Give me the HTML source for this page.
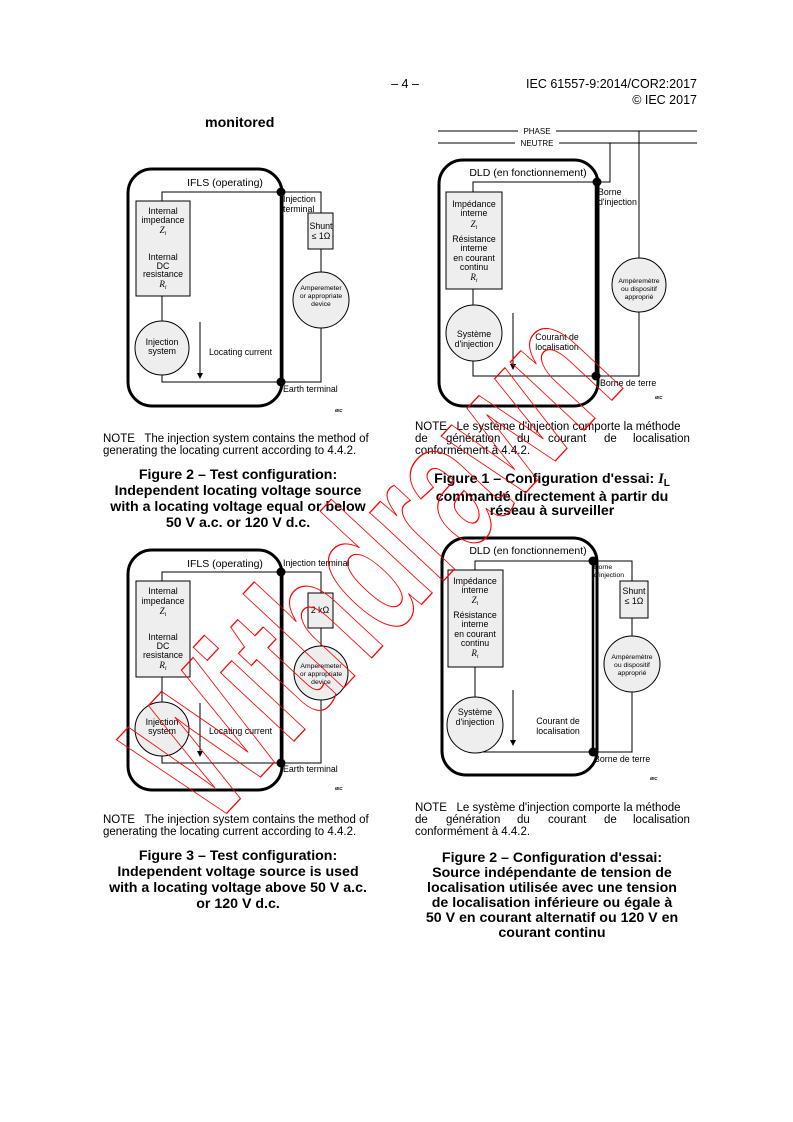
<!DOCTYPE html>
<html><head><meta charset="utf-8"><style>
html,body{margin:0;padding:0;background:#fff}
svg{display:block}
text{font-family:"Liberation Sans",sans-serif;fill:#000;white-space:pre}
.s{font-size:8.8px}.m{font-size:10.5px}.n{font-size:11.5px}
.c{font-size:14.2px;font-weight:bold}
.i{font-family:"Liberation Serif",serif;font-style:italic;font-size:9px}
.t{font-size:4.5px;font-style:italic;font-weight:bold}
</style></head><body>
<svg width="793" height="1122" viewBox="0 0 793 1122" xmlns="http://www.w3.org/2000/svg" xml:space="preserve">
<text x="405" y="88" text-anchor="middle" font-size="12.5">– 4 –</text>
<text x="697" y="88" text-anchor="end" font-size="12.5">IEC 61557-9:2014/COR2:2017</text>
<text x="697" y="104" text-anchor="end" font-size="12.5">© IEC 2017</text>
<text x="205" y="127" class="c">monitored</text>

<!-- Fig top-left -->
<g fill="none" stroke="#000">
<rect x="128" y="169" width="154" height="237" rx="24" stroke-width="3"/>
<polyline points="162,201 162,192 321,192 321,213"/>
<line x1="281" y1="192" x2="281" y2="382" stroke-width="2.5"/>
<polyline points="162,296 162,322"/>
<polyline points="162,374 162,382 321,382 321,328"/>
<line x1="321" y1="249" x2="321" y2="272"/>
<line x1="200" y1="322" x2="200" y2="375"/>
</g>
<path d="M197,373 L200,379 L203,373Z"/>
<rect x="136" y="201" width="54" height="95" fill="#eee" stroke="#000"/>
<rect x="308" y="213" width="25" height="36" fill="#eee" stroke="#000"/>
<circle cx="162" cy="348" r="27" fill="#eee" stroke="#000"/>
<circle cx="321" cy="300" r="28" fill="#eee" stroke="#000"/>
<circle cx="281" cy="192" r="4.5"/><circle cx="281" cy="382" r="4.5"/>
<text x="225" y="186" class="m" text-anchor="middle">IFLS (operating)</text>
<g class="s" text-anchor="middle">
<text x="163" y="214">Internal</text><text x="163" y="223">impedance</text>
<text x="163" y="233" class="i">Z<tspan font-size="6" dy="2">i</tspan></text>
<text x="163" y="260">Internal</text><text x="163" y="269">DC</text><text x="163" y="277">resistance</text>
<text x="163" y="287" class="i">R<tspan font-size="6" dy="2">i</tspan></text>
<text x="162" y="345">Injection</text><text x="162" y="354">system</text>
<text x="321" y="229">Shunt</text><text x="321" y="239">≤ 1Ω</text>
<text x="321" y="290" font-size="6.8">Amperemeter</text><text x="321" y="298" font-size="6.8">or appropriate</text><text x="321" y="306" font-size="6.8">device</text>
</g>
<text x="209" y="355" class="s">Locating current</text>
<text x="283" y="202" class="s">Injection</text><text x="283" y="212" class="s">terminal</text>
<text x="283" y="392" class="s">Earth terminal</text>
<text x="335" y="412" class="t">IEC</text>

<!-- Fig top-right -->
<g fill="none" stroke="#000">
<line x1="438" y1="131" x2="518" y2="131"/><line x1="556" y1="131" x2="697" y2="131"/>
<line x1="438" y1="143" x2="515" y2="143"/><line x1="559" y1="143" x2="697" y2="143"/>
<rect x="439" y="160" width="159" height="246" rx="24" stroke-width="3"/>
<polyline points="473,192 473,182 610,182 610,143"/>
<line x1="639" y1="131" x2="639" y2="258"/>
<polyline points="639,312 639,376 473,376 473,361"/>
<line x1="473" y1="289" x2="473" y2="305"/>
<line x1="596" y1="182" x2="596" y2="376" stroke-width="2.5"/>
<line x1="513" y1="313" x2="513" y2="366"/>
</g>
<path d="M510,364 L513,370 L516,364Z"/>
<rect x="446" y="192" width="56" height="97" fill="#eee" stroke="#000"/>
<circle cx="474" cy="333" r="28" fill="#eee" stroke="#000"/>
<circle cx="639" cy="285" r="27" fill="#eee" stroke="#000"/>
<circle cx="597" cy="182" r="4.5"/><circle cx="596" cy="376" r="4.5"/>
<text x="537" y="134" font-size="8" text-anchor="middle">PHASE</text>
<text x="537" y="146" font-size="8" text-anchor="middle">NEUTRE</text>
<text x="528" y="176" class="m" text-anchor="middle">DLD (en fonctionnement)</text>
<g class="s" text-anchor="middle">
<text x="474" y="207">Impédance</text><text x="474" y="216">interne</text>
<text x="474" y="227" class="i">Z<tspan font-size="6" dy="2">i</tspan></text>
<text x="474" y="242">Résistance</text><text x="474" y="251">interne</text><text x="474" y="261">en courant</text><text x="474" y="270">continu</text>
<text x="474" y="280" class="i">R<tspan font-size="6" dy="2">i</tspan></text>
<text x="474" y="337">Système</text><text x="474" y="347">d'injection</text>
<text x="557" y="340">Courant de</text><text x="557" y="350">localisation</text>
<text x="639" y="283" font-size="6.8">Ampèremètre</text><text x="639" y="291" font-size="6.8">ou dispositif</text><text x="639" y="299" font-size="6.8">approprié</text>
</g>
<text x="598" y="195" class="s">Borne</text><text x="598" y="205" class="s">d'injection</text>
<text x="600" y="386" class="s">Borne de terre</text>
<text x="655" y="399" class="t">IEC</text>

<!-- captions top -->
<text x="103" y="442" class="n">NOTE   The injection system contains the method of</text>
<text x="103" y="454" class="n">generating the locating current according to 4.4.2.</text>
<g class="c" text-anchor="middle">
<text x="238" y="479">Figure 2 – Test configuration:</text>
<text x="238" y="495">Independent locating voltage source</text>
<text x="238" y="511">with a locating voltage equal or below</text>
<text x="238" y="527">50 V a.c. or 120 V d.c.</text>
</g>
<text x="415" y="430" class="n">NOTE   Le système d'injection comporte la méthode</text>
<g class="n"><text x="415" y="442">de</text><text x="446" y="442">génération</text><text x="517" y="442">du</text><text x="548" y="442">courant</text><text x="604" y="442">de</text><text x="633" y="442">localisation</text></g>
<text x="415" y="454" class="n">conformément à 4.4.2.</text>
<g class="c" text-anchor="middle">
<text x="552" y="483">Figure 1 – Configuration d'essai: <tspan font-family="Liberation Serif" font-style="italic">I</tspan><tspan font-size="10" dy="3">L</tspan></text>
<text x="552" y="501">commandé directement à partir du</text>
<text x="552" y="515">réseau à surveiller</text>
</g>

<!-- Fig bottom-left -->
<g fill="none" stroke="#000">
<rect x="128" y="550" width="154" height="240" rx="24" stroke-width="3"/>
<polyline points="162,581 162,572 321,572 321,593"/>
<line x1="281" y1="572" x2="281" y2="763" stroke-width="2.5"/>
<line x1="162" y1="677" x2="162" y2="702"/>
<polyline points="162,756 162,763 321,763 321,700"/>
<line x1="321" y1="628" x2="321" y2="646"/>
<line x1="200" y1="703" x2="200" y2="753"/>
</g>
<path d="M197,751 L200,757 L203,751Z"/>
<rect x="136" y="581" width="54" height="96" fill="#eee" stroke="#000"/>
<rect x="308" y="593" width="25" height="35" fill="#eee" stroke="#000"/>
<circle cx="162" cy="729" r="27" fill="#eee" stroke="#000"/>
<circle cx="321" cy="673" r="27" fill="#eee" stroke="#000"/>
<circle cx="281" cy="572" r="4.5"/><circle cx="281" cy="763" r="4.5"/>
<text x="225" y="567" class="m" text-anchor="middle">IFLS (operating)</text>
<g class="s" text-anchor="middle">
<text x="163" y="594">Internal</text><text x="163" y="604">impedance</text>
<text x="163" y="614" class="i">Z<tspan font-size="6" dy="2">i</tspan></text>
<text x="163" y="640">Internal</text><text x="163" y="649">DC</text><text x="163" y="658">resistance</text>
<text x="163" y="668" class="i">R<tspan font-size="6" dy="2">i</tspan></text>
<text x="162" y="725">Injection</text><text x="162" y="734">system</text>
<text x="320" y="613">2 kΩ</text>
<text x="321" y="668" font-size="6.8">Amperemeter</text><text x="321" y="676" font-size="6.8">or appropriate</text><text x="321" y="684" font-size="6.8">device</text>
</g>
<text x="209" y="734" class="s">Locating current</text>
<text x="283" y="566" class="s">Injection terminal</text>
<text x="283" y="772" class="s">Earth terminal</text>
<text x="335" y="790" class="t">IEC</text>

<!-- Fig bottom-right -->
<g fill="none" stroke="#000">
<rect x="442" y="538" width="155" height="237" rx="24" stroke-width="3"/>
<polyline points="475,570 475,561 632,561 632,581"/>
<line x1="593" y1="561" x2="593" y2="752" stroke-width="2.5"/>
<line x1="475" y1="667" x2="475" y2="697"/>
<polyline points="475,753 475,752 632,752 632,692"/>
<line x1="632" y1="618" x2="632" y2="636"/>
<line x1="513" y1="690" x2="513" y2="742"/>
</g>
<path d="M510,740 L513,746 L516,740Z"/>
<rect x="448" y="570" width="55" height="97" fill="#eee" stroke="#000"/>
<rect x="620" y="581" width="28" height="37" fill="#eee" stroke="#000"/>
<circle cx="475" cy="725" r="28" fill="#eee" stroke="#000"/>
<circle cx="632" cy="664" r="28" fill="#eee" stroke="#000"/>
<circle cx="593" cy="561" r="4.5"/><circle cx="593" cy="752" r="4.5"/>
<text x="528" y="554" class="m" text-anchor="middle">DLD (en fonctionnement)</text>
<g class="s" text-anchor="middle">
<text x="475" y="584">Impédance</text><text x="475" y="593">interne</text>
<text x="475" y="603" class="i">Z<tspan font-size="6" dy="2">i</tspan></text>
<text x="475" y="618">Résistance</text><text x="475" y="627">interne</text><text x="475" y="637">en courant</text><text x="475" y="646">continu</text>
<text x="475" y="656" class="i">R<tspan font-size="6" dy="2">i</tspan></text>
<text x="475" y="715">Système</text><text x="475" y="725">d'injection</text>
<text x="558" y="724">Courant de</text><text x="558" y="734">localisation</text>
<text x="634" y="594">Shunt</text><text x="634" y="604">≤ 1Ω</text>
<text x="632" y="659" font-size="6.8">Ampèremètre</text><text x="632" y="667" font-size="6.8">ou dispositif</text><text x="632" y="675" font-size="6.8">approprié</text>
</g>
<text x="594" y="569" font-size="6.8">Borne</text><text x="594" y="577" font-size="6.8">d'injection</text>
<text x="594" y="762" class="s">Borne de terre</text>
<text x="650" y="780" class="t">IEC</text>

<!-- captions bottom -->
<text x="103" y="823" class="n">NOTE   The injection system contains the method of</text>
<text x="103" y="835" class="n">generating the locating current according to 4.4.2.</text>
<g class="c" text-anchor="middle">
<text x="238" y="860">Figure 3 – Test configuration:</text>
<text x="238" y="876">Independent voltage source is used</text>
<text x="238" y="892">with a locating voltage above 50 V a.c.</text>
<text x="238" y="908">or 120 V d.c.</text>
</g>
<text x="415" y="811" class="n">NOTE   Le système d'injection comporte la méthode</text>
<g class="n"><text x="415" y="823">de</text><text x="446" y="823">génération</text><text x="517" y="823">du</text><text x="548" y="823">courant</text><text x="604" y="823">de</text><text x="633" y="823">localisation</text></g>
<text x="415" y="835" class="n">conformément à 4.4.2.</text>
<g class="c" text-anchor="middle">
<text x="552" y="862">Figure 2 – Configuration d'essai:</text>
<text x="552" y="877">Source indépendante de tension de</text>
<text x="552" y="892">localisation utilisée avec une tension</text>
<text x="552" y="907">de localisation inférieure ou égale à</text>
<text x="552" y="922">50 V en courant alternatif ou 120 V en</text>
<text x="552" y="937">courant continu</text>
</g>

<!-- watermark -->
<text x="0" y="0" transform="translate(420,606) rotate(-47)" text-anchor="middle" font-size="190" style="fill:none;stroke:#f00;stroke-width:1.3;font-family:'Liberation Sans',sans-serif;font-weight:bold" textLength="610" lengthAdjust="spacingAndGlyphs">Withdrawn</text>
</svg>
</body></html>
